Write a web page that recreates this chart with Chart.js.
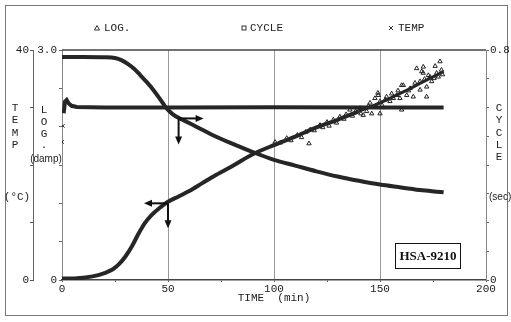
<!DOCTYPE html>
<html><head><meta charset="utf-8">
<script src="https://cdn.jsdelivr.net/npm/chart.js@4/dist/chart.umd.min.js"></script>
<style>html,body{margin:0;padding:0;background:#fff}</style>
</head><body>
<canvas id="c" width="511" height="322" style="display:block;width:511px;height:322px"></canvas>
<script>
// ---- data ----
const seriesNames = ['LOG.', 'CYCLE', 'TEMP'];
const xTickLabels = ['0', '50', '100', '150', '200'];

const logTimes  = [0, 5, 10, 15, 20, 24, 27, 30, 33, 36, 39, 42, 46, 50, 55, 60, 66, 72, 80, 90, 100, 110, 120, 130, 140, 150, 160, 170, 180];
const logValues = [0.02, 0.02, 0.03, 0.05, 0.09, 0.14, 0.21, 0.31, 0.44, 0.60, 0.74, 0.84, 0.94, 1.02, 1.09, 1.16, 1.26, 1.36, 1.48, 1.64, 1.76, 1.87, 1.99, 2.09, 2.20, 2.31, 2.44, 2.58, 2.72];

const logScatterT = [100.5,103,106,108,111,113,115,116.5,117,119,121.7,123,125,126,128,129.5,131.1,133,134,135.8,137,138.5,140.6,141,142.1,143.7,144.5,145.3,146.1,147.6,148,149,149.2,150,150,151,152.4,153.1,154.7,155.5,156.3,157.9,158.5,159.4,160.2,160.2,161,162.6,163.5,164.2,165.7,166.5,167.3,168.9,168.9,169.7,170.4,170.4,171,172,172,172.8,173.6,174.4,175.5,176,176.7,177.5,178.3,179,179.5];
const logScatterV = [1.80,1.79,1.85,1.82,1.89,1.86,1.93,1.78,1.96,1.95,2.02,1.99,2.06,2.01,2.09,2.05,2.13,2.10,2.16,2.22,2.14,2.20,2.24,2.17,2.15,2.20,2.27,2.31,2.17,2.37,2.27,2.44,2.41,2.17,2.33,2.28,2.35,2.39,2.33,2.43,2.37,2.41,2.47,2.37,2.54,2.22,2.54,2.41,2.47,2.50,2.39,2.57,2.76,2.48,2.59,2.72,2.78,2.70,2.62,2.52,2.39,2.67,2.65,2.59,2.63,2.79,2.70,2.65,2.85,2.74,2.68];

const cycleTimes  = [0, 10, 20, 25, 28, 31, 34, 37, 40, 43, 46, 49, 52, 56, 60, 65, 70, 80, 90, 100, 110, 120, 130, 140, 150, 160, 170, 180];
const cycleValues = [0.776, 0.776, 0.775, 0.772, 0.765, 0.752, 0.735, 0.712, 0.688, 0.662, 0.632, 0.600, 0.578, 0.560, 0.546, 0.527, 0.508, 0.475, 0.445, 0.418, 0.398, 0.378, 0.360, 0.345, 0.332, 0.322, 0.312, 0.305];

const tempTimes  = [0, 0.4, 0.8, 1.4, 2.2, 3.2, 4.5, 7, 20, 50, 100, 150, 180];
const tempValues = [24.0, 26.8, 29.0, 31.0, 31.3, 30.7, 30.3, 30.1, 30.0, 30.0, 30.05, 30.0, 30.0];

const zip = (t, v) => t.map((x, i) => ({ x, y: v[i] }));
const INK = '#262626';
const MONO = '"Liberation Mono", monospace';

const decorPlugin = {
  id: 'decor',
  beforeDraw(chart) {
    const c = chart.ctx;
    c.save();
    c.fillStyle = '#fff';
    c.fillRect(0, 0, chart.width, chart.height);
    c.strokeStyle = '#777';
    c.lineWidth = 1;
    c.strokeRect(5.5, 5.5, 502, 310);
    c.restore();
  },
  beforeDatasetsDraw(chart) {
    const { ctx: c, chartArea: a } = chart;
    c.save();
    c.strokeStyle = '#444';
    c.lineWidth = 1.5;
    c.beginPath();
    c.moveTo(a.left, a.top);
    c.lineTo(a.right, a.top);
    c.stroke();
    c.restore();
  },
  afterDraw(chart) {
    const c = chart.ctx;
    const sx = chart.scales.x, sy = chart.scales.y, sy2 = chart.scales.y2;
    c.save();
    // arrows
    c.strokeStyle = '#111'; c.fillStyle = '#111'; c.lineWidth = 2;
    const head = (x, y, dx, dy) => {
      const L = 8, W = 3.5;
      c.beginPath();
      c.moveTo(x, y);
      c.lineTo(x - dx * L - dy * W, y - dy * L + dx * W);
      c.lineTo(x - dx * L + dy * W, y - dy * L - dx * W);
      c.closePath(); c.fill();
    };
    const arrow = (x0, y0, x1, y1) => {
      const d = Math.hypot(x1 - x0, y1 - y0), dx = (x1 - x0) / d, dy = (y1 - y0) / d;
      c.beginPath(); c.moveTo(x0, y0); c.lineTo(x1 - dx * 6, y1 - dy * 6); c.stroke();
      head(x1, y1, dx, dy);
    };
    const ax1 = sx.getPixelForValue(55), ay1 = sy2.getPixelForValue(0.562);
    arrow(ax1, ay1, ax1 + 25, ay1);
    arrow(ax1, ay1, ax1, ay1 + 26);
    const ax2 = sx.getPixelForValue(50), ay2 = sy.getPixelForValue(1.0);
    arrow(ax2, ay2, ax2 - 24, ay2);
    arrow(ax2, ay2, ax2, ay2 + 25);

    // model box
    c.fillStyle = '#fff';
    c.fillRect(395.5, 243.5, 65, 25);
    c.strokeStyle = '#111'; c.lineWidth = 1;
    c.strokeRect(395.5, 243.5, 65, 25);
    c.fillStyle = '#111';
    c.font = 'bold 13px "Liberation Serif", serif';
    c.textAlign = 'center'; c.textBaseline = 'middle';
    c.fillText('HSA-9210', 428, 256.5);

    // axis titles (stacked letters)
    c.fillStyle = '#222';
    c.font = '11px ' + MONO;
    'TEMP'.split('').forEach((ch, i) => c.fillText(ch, 15, 108 + i * 12.3));
    'LOG'.split('').forEach((ch, i) => c.fillText(ch, 44, 110 + i * 12));
    c.fillText('.', 44, 145);
    c.fillText('(°C)', 17, 197);
    'CYCLE'.split('').forEach((ch, i) => c.fillText(ch, 499, 108 + i * 12.3));
    c.font = '10px "Liberation Sans", Arial, sans-serif';
    c.fillText('(damp)', 46, 159);
    c.textAlign = 'left';
    c.fillText('(sec)', 489, 197);

    // legend
    c.font = '11px ' + MONO;
    c.textAlign = 'left';
    c.strokeStyle = '#333'; c.lineWidth = 1;
    const ly = 28;
    const legendPos = [[97, 104], [244, 250], [391, 398]];
    // triangle
    c.beginPath(); c.moveTo(legendPos[0][0], ly - 2.5); c.lineTo(legendPos[0][0] + 2.5, ly + 2); c.lineTo(legendPos[0][0] - 2.5, ly + 2); c.closePath(); c.stroke();
    // square
    c.strokeRect(legendPos[1][0] - 2, ly - 2, 4, 4);
    // cross
    c.beginPath(); c.moveTo(legendPos[2][0] - 2, ly - 2); c.lineTo(legendPos[2][0] + 2, ly + 2); c.moveTo(legendPos[2][0] + 2, ly - 2); c.lineTo(legendPos[2][0] - 2, ly + 2); c.stroke();
    seriesNames.forEach((n, i) => c.fillText(n, legendPos[i][1], ly));
    c.restore();
  }
};

const tickFont = { family: MONO, size: 11 };

new Chart(document.getElementById('c'), {
  type: 'line',
  data: {
    datasets: [
      { label: seriesNames[0], data: zip(logTimes, logValues), yAxisID: 'y', borderColor: INK, borderWidth: 4,
        pointRadius: 0, cubicInterpolationMode: 'monotone',
        segment: { borderWidth: ctx => ctx.p0.parsed.x >= 140 ? 3 : 4 } },
      { label: seriesNames[0] + ' pts', type: 'scatter', data: zip(logScatterT, logScatterV), yAxisID: 'y',
        pointStyle: 'triangle', pointRadius: 2.5, borderWidth: 1, borderColor: '#222', backgroundColor: 'rgba(255,255,255,0)' },
      { label: seriesNames[1], data: zip(cycleTimes, cycleValues), yAxisID: 'y2', borderColor: INK, borderWidth: 4,
        pointRadius: 0, cubicInterpolationMode: 'monotone' },
      { label: seriesNames[2], data: zip(tempTimes, tempValues), yAxisID: 'yT', borderColor: INK, borderWidth: 4,
        pointStyle: 'crossRot', pointRadius: ctx => ctx.dataIndex < 2 ? 2.5 : 0, pointBorderWidth: 1,
        segment: { borderColor: ctx => ctx.p0DataIndex < 2 ? 'rgba(0,0,0,0)' : INK } }
    ]
  },
  options: {
    responsive: false,
    animation: false,
    events: [],
    layout: { padding: { top: 50, left: 0, right: 0, bottom: 0 } },
    plugins: { legend: { display: false }, tooltip: { enabled: false } },
    scales: {
      x: {
        type: 'linear', min: 0, max: 200,
        afterFit: s => { s.height = 42; },
        ticks: { stepSize: 25, autoSkip: false, maxRotation: 0, padding: 0, font: tickFont, color: '#222',
          callback: v => (v % 50 === 0 ? xTickLabels[v / 50] : '') },
        grid: { color: ctx => (ctx.tick && ctx.tick.value % 50 === 0 && ctx.tick.value > 0 && ctx.tick.value < 200) ? '#999' : 'rgba(0,0,0,0)',
          tickColor: '#555', tickLength: 2, lineWidth: 1 },
        border: { display: true, color: '#444', width: 1.5 },
        title: { display: true, text: 'TIME  (min)', font: tickFont, color: '#222', padding: { top: 0, bottom: 17 } }
      },
      y: {
        position: 'left', weight: 1, min: 0, max: 3,
        afterFit: s => { s.width = 29; },
        ticks: { stepSize: 0.5, autoSkip: false, padding: 2, font: tickFont, color: '#222',
          callback: v => (Math.abs(v - 3) < 1e-6 ? '3.0' : (Math.abs(v) < 1e-6 ? '0' : '')) },
        grid: { drawOnChartArea: false, tickLength: 3, tickColor: '#666' },
        border: { display: true, color: '#888', width: 1 }
      },
      yT: {
        position: 'left', weight: 2, min: 0, max: 40,
        afterFit: s => { s.width = 33; },
        ticks: { stepSize: 10, autoSkip: false, padding: 1, font: tickFont, color: '#222',
          callback: v => (v === 40 || v === 0 ? String(v) : '') },
        grid: { drawOnChartArea: false, tickLength: 3, tickColor: '#555' },
        border: { display: true, color: '#666', width: 1 }
      },
      y2: {
        position: 'right', min: 0, max: 0.8,
        afterFit: s => { s.width = 25; },
        ticks: { stepSize: 0.1, autoSkip: false, padding: 1, font: tickFont, color: '#222',
          callback: v => (Math.abs(v - 0.8) < 1e-6 ? '0.8' : (Math.abs(v) < 1e-6 ? '0' : '')) },
        grid: { drawOnChartArea: false, tickLength: 3, tickColor: '#666' },
        border: { display: true, color: '#888', width: 1 }
      }
    }
  },
  plugins: [decorPlugin]
});
</script>
</body></html>
